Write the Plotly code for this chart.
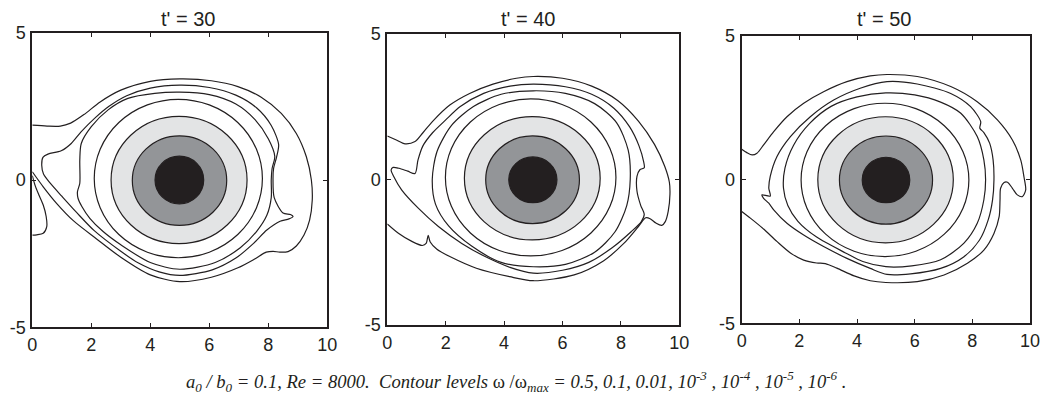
import plotly.graph_objects as go

# ---------------- data ----------------
PANEL_TITLES = ["t' = 30", "t' = 40", "t' = 50"]
X_TICKS = [0, 2, 4, 6, 8, 10]
Y_TICKS = [-5, 0, 5]
Y_TICK_TEXT = ["-5", "0", "5"]

# near-elliptic inner contours: bounds [x0, x1, y0, y1] per panel
CORE_BOUNDS = [[4.16, 5.81, -0.81, 0.81], [4.16, 5.81, -0.80, 0.77], [4.18, 5.83, -0.80, 0.78]]      # 0.5
MID_BOUNDS = [[3.39, 6.59, -1.54, 1.50], [3.37, 6.58, -1.52, 1.49], [3.39, 6.62, -1.55, 1.52]]       # 0.1
OUTER_BOUNDS = [[2.67, 7.28, -2.16, 2.16], [2.64, 7.29, -2.08, 2.15], [2.64, 7.34, -2.20, 2.19]]     # 0.01
C4_BOUNDS = [[2.10, 7.80, -2.64, 2.74], [1.99, 7.83, -2.63, 2.76], [2.06, 7.88, -2.68, 2.66]]        # 1e-3

# ---- t' = 30 ----
P1_C5_X = [5.0, 6.0, 6.9, 7.55, 8.0, 8.22, 8.13, 8.1, 8.1, 7.95, 7.6, 7.05, 6.2, 5.0, 4.0, 3.0, 2.4, 1.95, 1.68, 1.55, 1.53, 1.61, 1.61, 1.66, 2.0, 2.57, 3.24, 4.15, 5.0]
P1_C5_Y = [2.98, 2.9, 2.58, 2.05, 1.4, 0.8, 0.4, 0.0, -0.6, -1.2, -1.75, -2.3, -2.8, -3.03, -2.8, -2.2, -1.75, -1.3, -0.9, -0.62, -0.4, -0.11, 0.68, 1.24, 1.81, 2.38, 2.77, 2.94, 2.98]
P1_C6_X = [5.0, 6.0, 6.9, 7.6, 8.1, 8.35, 8.28, 8.18, 8.16, 8.2, 8.5, 8.75, 8.84, 8.7, 8.4, 7.95, 7.5, 6.9, 6.1, 5.0, 4.3, 3.6, 3.0, 2.1, 1.5, 1.0, 0.6, 0.38, 0.32, 0.36, 0.53, 0.98, 1.32, 1.66, 2.11, 2.6, 3.2, 4.0, 5.0]
P1_C6_Y = [3.22, 3.14, 2.88, 2.45, 1.85, 1.2, 0.78, 0.4, 0.0, -0.6, -1.12, -1.17, -1.24, -1.32, -1.4, -1.7, -2.15, -2.65, -3.05, -3.24, -3.12, -2.82, -2.42, -1.72, -1.1, -0.55, -0.1, 0.2, 0.5, 0.77, 0.88, 0.99, 1.24, 1.64, 2.09, 2.5, 2.86, 3.12, 3.22]
P1_C7_X = [0.0, 0.5, 0.95, 1.3, 1.75, 2.3, 3.0, 4.0, 5.0, 6.07, 6.97, 7.76, 8.44, 8.95, 9.29, 9.46, 9.49, 9.40, 9.21, 8.95, 8.67, 8.39, 8.16, 7.93, 7.54, 6.97, 6.07, 5.0, 4.0, 3.0, 2.18, 1.39, 0.83, 0.37, 0.0]
P1_C7_Y = [1.86, 1.83, 1.83, 1.93, 2.22, 2.65, 3.05, 3.35, 3.43, 3.37, 3.17, 2.81, 2.26, 1.58, 0.79, 0.0, -0.68, -1.36, -1.87, -2.24, -2.43, -2.45, -2.42, -2.45, -2.68, -2.98, -3.3, -3.45, -3.22, -2.62, -2.0, -1.38, -0.8, -0.23, 0.28]
P1_LOBE_X = [0.0, 0.1, 0.22, 0.37, 0.47, 0.49, 0.37, 0.15, 0.0]
P1_LOBE_Y = [0.15, -0.2, -0.5, -0.85, -1.24, -1.58, -1.81, -1.86, -1.87]

# ---- t' = 40 ----
P2_C5_X = [5.0, 6.1, 7.1, 7.85, 8.25, 8.32, 8.2, 7.8, 7.1, 6.1, 5.0, 3.9, 2.9, 2.1, 1.65, 1.54, 1.7, 2.2, 2.95, 3.9, 5.0]
P2_C5_Y = [3.04, 2.95, 2.6, 1.95, 1.0, 0.0, -0.9, -1.8, -2.5, -2.92, -3.0, -2.85, -2.3, -1.6, -0.85, 0.0, 0.95, 1.85, 2.5, 2.92, 3.04]
P2_C6_X = [5.0, 6.1, 7.0, 7.75, 8.3, 8.62, 8.78, 8.8, 8.65, 8.55, 8.55, 8.68, 8.8, 8.7, 8.35, 7.7, 6.9, 6.0, 5.0, 4.2, 3.35, 2.55, 1.75, 1.06, 0.49, 0.22, 0.13, 0.2, 0.4, 0.7, 0.95, 1.05, 1.22, 1.55, 2.0, 2.5, 3.3, 4.2, 5.0]
P2_C6_Y = [3.27, 3.18, 2.92, 2.45, 1.8, 1.15, 0.6, 0.4, 0.33, 0.1, -0.4, -0.9, -1.2, -1.45, -1.8, -2.35, -2.85, -3.12, -3.22, -3.02, -2.65, -2.2, -1.62, -0.99, -0.36, 0.1, 0.32, 0.41, 0.38, 0.28, 0.2, 0.66, 1.15, 1.6, 2.04, 2.5, 2.95, 3.2, 3.27]
P2_C7_X = [0.0, 0.31, 0.61, 0.95, 1.22, 1.56, 2.14, 2.82, 3.62, 4.42, 5.0, 6.0, 7.0, 7.9, 8.6, 9.15, 9.5, 9.66, 9.68, 9.62, 9.52, 9.4, 9.2, 9.0, 8.85, 8.6, 8.1, 7.4, 6.4, 5.0, 4.19, 3.05, 2.14, 1.7, 1.47, 1.40, 1.33, 1.2, 0.84, 0.38, 0.0]
P2_C7_Y = [1.49, 1.35, 1.22, 1.3, 1.6, 2.0, 2.55, 2.95, 3.27, 3.47, 3.53, 3.47, 3.2, 2.7, 2.0, 1.2, 0.45, -0.1, -0.5, -1.1, -1.45, -1.58, -1.5, -1.35, -1.32, -1.62, -2.2, -2.8, -3.28, -3.48, -3.34, -3.05, -2.65, -2.4, -2.15, -1.92, -2.2, -2.27, -2.13, -1.85, -1.53]

# ---- t' = 50 ----
P3_C5_X = [5.0, 6.0, 6.9, 7.6, 8.17, 8.4, 8.46, 8.4, 8.17, 7.71, 6.9, 5.9, 5.0, 4.2, 3.6, 2.6, 1.95, 1.6, 1.45, 1.5, 1.8, 2.35, 3.1, 4.0, 5.0]
P3_C5_Y = [3.02, 2.95, 2.7, 2.31, 1.5, 0.69, 0.0, -0.7, -1.52, -2.21, -2.79, -3.0, -3.03, -2.85, -2.55, -2.0, -1.45, -0.9, -0.3, 0.4, 1.2, 1.95, 2.55, 2.88, 3.02]
P3_C6_X = [5.04, 6.09, 7.25, 7.94, 8.29, 8.26, 8.4, 8.6, 8.72, 8.75, 8.7, 8.55, 8.25, 7.71, 6.9, 5.86, 5.04, 4.46, 3.65, 2.84, 2.15, 1.57, 1.11, 0.94, 0.76, 0.70, 0.99, 0.94, 0.99, 1.22, 1.69, 2.38, 3.19, 4.11, 5.04]
P3_C6_Y = [3.41, 3.33, 3.0, 2.54, 2.02, 1.79, 1.64, 1.27, 0.69, 0.0, -0.71, -1.4, -2.1, -2.68, -3.09, -3.28, -3.3, -3.09, -2.74, -2.33, -1.93, -1.52, -1.05, -0.82, -0.65, -0.53, -0.57, -0.3, 0.11, 0.8, 1.5, 2.19, 2.77, 3.18, 3.41]
P3_C7_X = [0.0, 0.18, 0.36, 0.53, 0.76, 1.11, 1.57, 2.15, 2.84, 3.65, 4.46, 5.04, 6.09, 7.25, 8.17, 8.87, 9.39, 9.68, 9.79, 9.85, 9.73, 9.56, 9.39, 9.22, 9.1, 8.98, 8.96, 8.93, 8.75, 8.4, 7.83, 7.02, 6.09, 5.0, 4.46, 3.9, 3.3, 2.9, 2.6, 2.15, 1.69, 1.22, 0.76, 0.3, 0.0]
P3_C7_Y = [1.06, 0.94, 0.86, 0.92, 1.21, 1.67, 2.19, 2.66, 3.06, 3.41, 3.61, 3.66, 3.59, 3.24, 2.71, 2.08, 1.38, 0.68, 0.1, -0.36, -0.59, -0.53, -0.3, -0.09, -0.1, -0.3, -0.71, -1.29, -1.87, -2.45, -2.91, -3.32, -3.55, -3.58, -3.52, -3.35, -3.08, -2.92, -2.9, -2.8, -2.55, -2.15, -1.72, -1.34, -1.11]

PANEL_LINES = [
    [(P1_C5_X, P1_C5_Y), (P1_C6_X, P1_C6_Y), (P1_C7_X, P1_C7_Y), (P1_LOBE_X, P1_LOBE_Y)],
    [(P2_C5_X, P2_C5_Y), (P2_C6_X, P2_C6_Y), (P2_C7_X, P2_C7_Y)],
    [(P3_C5_X, P3_C5_Y), (P3_C6_X, P3_C6_Y), (P3_C7_X, P3_C7_Y)],
]

# ---------------- styling / layout ----------------
W, H = 1047, 403
INK = "#231f20"
FILL_CORE = "#231f20"
FILL_MID = "#939598"
FILL_OUTER = "#e3e4e5"
SANS = "Liberation Sans, Arial, Helvetica, sans-serif"
SERIF = "Liberation Serif, Times New Roman, serif"

# plot-area pixel boxes (left, right, top, bottom) and title centres
BOXES = [(32.3, 327.3, 32.7, 327.3), (387.3, 679.3, 33.7, 325.0), (741.7, 1030.0, 36.0, 323.3)]
TITLE_CX = [188, 528, 884]

fig = go.Figure()
layout = dict(
    template="none",
    width=W, height=H, margin=dict(l=0, r=0, t=0, b=0, autoexpand=False),
    paper_bgcolor="white", plot_bgcolor="white", showlegend=False,
    shapes=[], annotations=[],
)

for i in range(3):
    sfx = "" if i == 0 else str(i + 1)
    xref, yref = "x" + sfx, "y" + sfx
    l, r, t, b = BOXES[i]
    xdom = [l / W, r / W]
    ydom = [1 - b / H, 1 - t / H]
    axcommon = dict(showgrid=False, zeroline=False, showline=True, linewidth=2, linecolor=INK,
                    mirror="ticks", ticks="inside", ticklen=4, tickwidth=1, tickcolor=INK,
                    automargin=False,
                    tickfont=dict(family=SANS, size=18, color=INK))
    layout["xaxis" + sfx] = dict(axcommon, domain=xdom, range=[0, 10], tickvals=X_TICKS,
                                 anchor=yref, ticklabelstandoff=0)
    layout["yaxis" + sfx] = dict(axcommon, domain=ydom, range=[-5, 5], tickvals=Y_TICKS,
                                 ticktext=Y_TICK_TEXT, anchor=xref, ticklabelstandoff=1)

    for bounds, fc in ((C4_BOUNDS[i], "rgba(0,0,0,0)"), (OUTER_BOUNDS[i], FILL_OUTER),
                       (MID_BOUNDS[i], FILL_MID), (CORE_BOUNDS[i], FILL_CORE)):
        layout["shapes"].append(dict(type="circle", xref=xref, yref=yref,
                                     x0=bounds[0], x1=bounds[1], y0=bounds[2], y1=bounds[3],
                                     fillcolor=fc, line=dict(color=INK, width=1.2)))

    for xs, ys in PANEL_LINES[i]:
        fig.add_trace(go.Scatter(x=xs, y=ys, mode="lines", xaxis=xref, yaxis=yref,
                                 line=dict(color=INK, width=1.2, shape="spline", smoothing=0.8),
                                 hoverinfo="skip"))

    layout["annotations"].append(dict(text=PANEL_TITLES[i], xref="paper", yref="paper",
                                      x=TITLE_CX[i] / W, y=1 - 19 / H, xanchor="center", yanchor="middle",
                                      showarrow=False,
                                      font=dict(family=SANS, size=20, color=INK)))

caption = ("<i>a<sub>0</sub> / b<sub>0</sub> = 0.1, Re = 8000.&nbsp;&nbsp;Contour levels </i>"
           "ω /ω<sub><i>max</i></sub><i> = 0.5, 0.1, 0.01, 10<sup>-3</sup> , 10<sup>-4</sup> , "
           "10<sup>-5</sup> , 10<sup>-6</sup> .</i>")
layout["annotations"].append(dict(text=caption, xref="paper", yref="paper",
                                  x=516 / W, y=1 - 381 / H, xanchor="center", yanchor="middle",
                                  showarrow=False,
                                  font=dict(family=SERIF, size=18.6, color=INK)))

fig.update_layout(**layout)
fig.write_html("out.html", config={"displayModeBar": False, "staticPlot": True},
               post_script="document.body.style.margin='0';document.body.style.overflow='hidden';")
